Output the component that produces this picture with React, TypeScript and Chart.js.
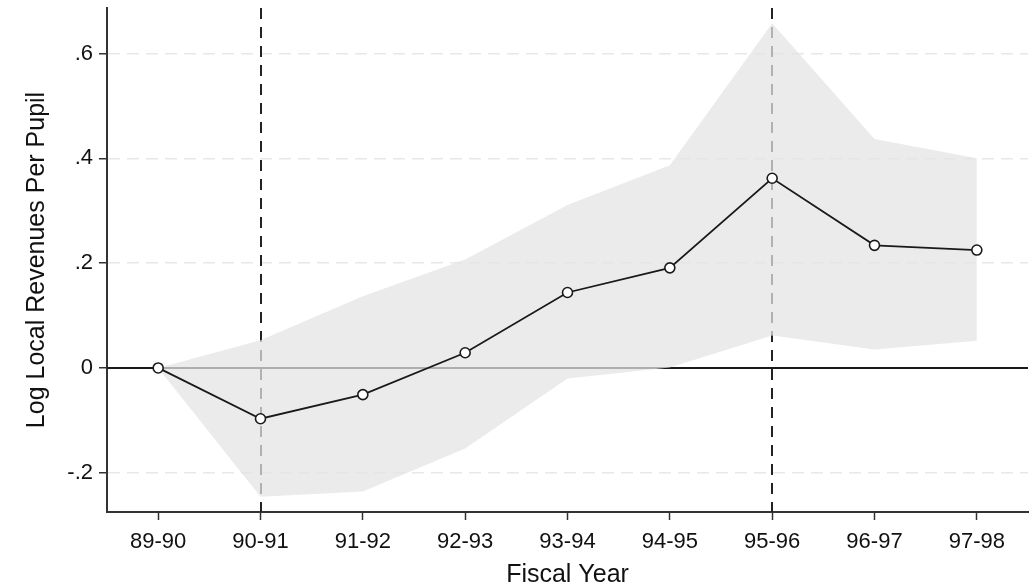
import React, { useEffect, useRef } from 'react';
import { Chart, registerables } from 'chart.js';

Chart.register(...registerables);

const CATEGORIES = ['89-90', '90-91', '91-92', '92-93', '93-94', '94-95', '95-96', '96-97', '97-98'];
const ESTIMATE = [0, -0.097, -0.051, 0.029, 0.144, 0.191, 0.362, 0.234, 0.225];
const UPPER = [0, 0.053, 0.137, 0.207, 0.311, 0.387, 0.658, 0.437, 0.4];
const LOWER = [0, -0.246, -0.236, -0.154, -0.02, 0.001, 0.062, 0.035, 0.052];
const Y_TICKS = [-0.2, 0, 0.2, 0.4, 0.6];
const Y_TICK_LABELS = ['-.2', '0', '.2', '.4', '.6'];
const EVENT_YEARS = ['90-91', '95-96'];
const Y_MIN = -0.275;
const Y_MAX = 0.687;

function hasFont(name: string): boolean {
  const ctx = document.createElement('canvas').getContext('2d');
  if (!ctx) return false;
  const sample = '89-90 Fiscal Year Log';
  ctx.font = '100px monospace';
  const a = ctx.measureText(sample).width;
  ctx.font = `100px '${name}', monospace`;
  const b = ctx.measureText(sample).width;
  return Math.abs(a - b) > 0.5;
}

export default function App() {
  const ref = useRef<HTMLCanvasElement>(null);

  useEffect(() => {
    if (!ref.current) return;
    const narrow = hasFont('Liberation Sans Narrow');
    const FONT = narrow
      ? "'Liberation Sans Narrow', 'Liberation Sans', Arial, sans-serif"
      : "'Liberation Sans', Arial, sans-serif";
    const tickSize = narrow ? 26 : 22;
    const titleSize = narrow ? 30.5 : 25;
    const yTitlePad = 37 - (titleSize * 1.2) / 2;
    const xTickPad = narrow ? 8 : 9;

    const refLines = {
      id: 'refLines',
      beforeDatasetsDraw(chart: any) {
        const { ctx, chartArea, scales } = chart;
        const xs = scales.x;
        const ys = scales.y;
        ctx.save();
        const y0 = Math.round(ys.getPixelForValue(0));
        ctx.strokeStyle = '#1a1a1a';
        ctx.lineWidth = 2;
        ctx.setLineDash([]);
        ctx.beginPath();
        ctx.moveTo(chartArea.left, y0);
        ctx.lineTo(chartArea.right, y0);
        ctx.stroke();
        ctx.setLineDash([11, 8]);
        ctx.strokeStyle = '#222';
        ctx.lineWidth = 2;
        EVENT_YEARS.forEach((yr) => {
          const idx = CATEGORIES.indexOf(yr);
          const x = Math.round(xs.getPixelForValue(idx));
          ctx.beginPath();
          ctx.moveTo(x, chartArea.top);
          ctx.lineTo(x, chartArea.bottom);
          ctx.stroke();
        });
        ctx.restore();
      },
    };

    const chart = new Chart(ref.current, {
      type: 'line',
      data: {
        labels: CATEGORIES,
        datasets: [
          {
            label: 'Estimate',
            data: ESTIMATE,
            borderColor: '#1a1a1a',
            borderWidth: 1.8,
            pointRadius: 5,
            pointBorderWidth: 1.6,
            pointBackgroundColor: '#ffffff',
            pointBorderColor: '#1a1a1a',
            fill: false,
            order: 0,
          },
          {
            label: 'Upper',
            data: UPPER,
            borderWidth: 0,
            borderColor: 'rgba(0,0,0,0)',
            pointRadius: 0,
            backgroundColor: 'rgba(228,228,228,0.74)',
            fill: '+1',
            order: 1,
          },
          {
            label: 'Lower',
            data: LOWER,
            borderWidth: 0,
            borderColor: 'rgba(0,0,0,0)',
            pointRadius: 0,
            fill: false,
            order: 2,
          },
        ],
      },
      options: {
        animation: false,
        responsive: true,
        maintainAspectRatio: false,
        layout: { padding: { top: 8, right: 8, left: 0, bottom: 0 } },
        plugins: {
          legend: { display: false },
          tooltip: { enabled: false },
        },
        scales: {
          x: {
            type: 'category',
            offset: true,
            grid: {
              drawOnChartArea: false,
              drawTicks: true,
              tickLength: 8,
              tickColor: '#333',
              tickWidth: 1.5,
            },
            border: { display: true, color: '#333', width: 2 },
            ticks: {
              color: '#111',
              padding: xTickPad,
              maxRotation: 0,
              autoSkip: false,
              font: { family: FONT, size: tickSize },
            },
            title: {
              display: true,
              text: 'Fiscal Year',
              color: '#111',
              font: { family: FONT, size: titleSize, lineHeight: 1.0 },
              padding: { top: 0, bottom: 0 },
            },
            afterFit(scale: any) {
              scale.height = 76;
              scale.paddingLeft = 0;
              scale.paddingRight = 0;
            },
          },
          y: {
            type: 'linear',
            min: Y_MIN,
            max: Y_MAX,
            afterBuildTicks(scale: any) {
              scale.ticks = Y_TICKS.map((v) => ({ value: v }));
            },
            grid: {
              drawOnChartArea: true,
              color: '#e8e8e8',
              lineWidth: 1.5,
              drawTicks: true,
              tickLength: 8,
              tickColor: '#333',
              tickWidth: 1.5,
            },
            border: { display: true, color: '#333', width: 2, dash: [12, 7] },
            ticks: {
              color: '#111',
              padding: 6,
              font: { family: FONT, size: tickSize },
              callback: (value: any) => {
                const i = Y_TICKS.findIndex((t) => Math.abs(t - Number(value)) < 1e-9);
                return i >= 0 ? Y_TICK_LABELS[i] : '';
              },
            },
            title: {
              display: true,
              text: 'Log Local Revenues Per Pupil',
              color: '#111',
              font: { family: FONT, size: titleSize, lineHeight: 1.2 },
              padding: { top: yTitlePad, bottom: 0 },
            },
            afterFit(scale: any) {
              scale.width = 107;
              scale.paddingTop = 0;
              scale.paddingBottom = 0;
            },
          },
        },
      },
      plugins: [refLines],
    } as any);

    return () => chart.destroy();
  }, []);

  return (
    <div style={{ position: 'fixed', left: 0, top: 0, width: 1036, height: 588, background: '#fff' }}>
      <canvas ref={ref} />
    </div>
  );
}
